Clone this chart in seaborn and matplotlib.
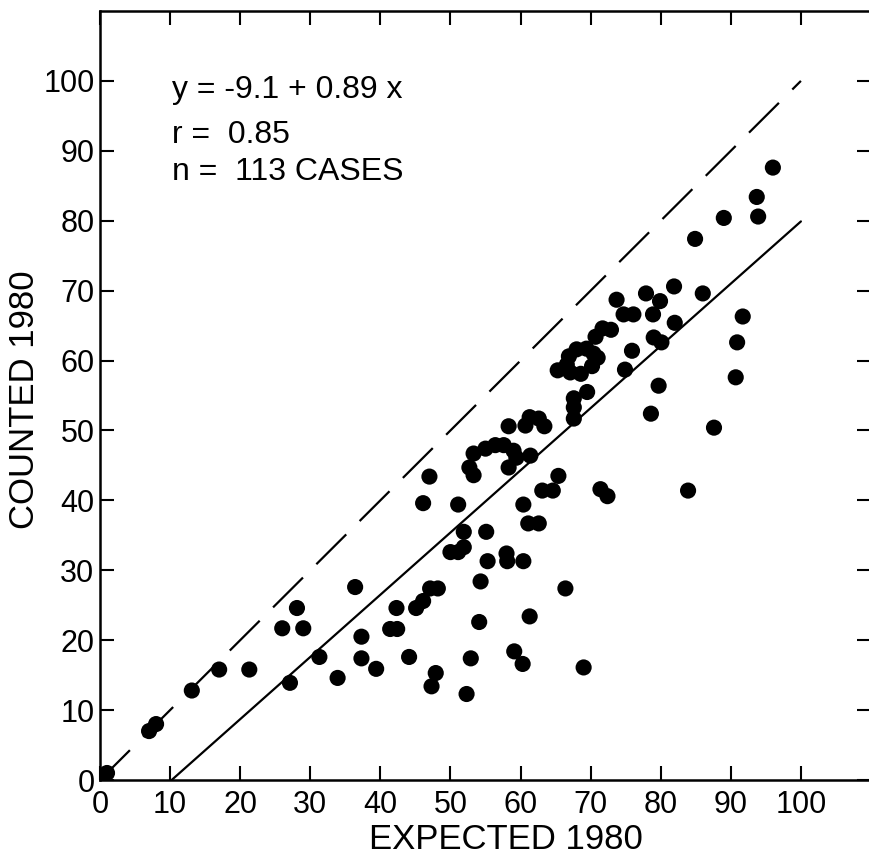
"""Counted vs expected 1980 scatter, with identity and fitted line."""

import matplotlib

matplotlib.use("Agg")
import matplotlib.pyplot as plt
import numpy as np
import pandas as pd
import seaborn as sns

# values (expected, counted)
expected = [
    1, 7, 8, 13.1, 17, 21.3, 26, 28.1, 29, 27.1,
    31.3, 33.9, 36.4, 37.3, 37.3, 39.4, 41.4, 42.4, 42.3, 44.1,
    45.1, 46.1, 47.1, 48.2, 47.9, 47.3, 47.0, 46.1, 50.0, 51.1,
    51.9, 51.9, 51.1, 52.3, 52.9, 54.1, 54.3, 55.3, 55.1, 52.7,
    53.3, 53.3, 55.0, 56.4, 57.6, 59.0, 59.4, 58.3, 58.3, 58.0,
    58.1, 59.1, 60.3, 60.4, 60.4, 61.3, 61.1, 62.6, 61.4, 60.7,
    61.3, 62.6, 63.4, 63.1, 64.6, 65.4, 66.4, 69.0, 71.4, 72.4,
    67.6, 67.6, 67.6, 69.5, 65.3, 66.9, 68.0, 69.4, 70.4, 70.2,
    68.6, 67.1, 66.6, 71.0, 70.7, 71.7, 72.9, 73.7, 74.7, 76.1,
    74.9, 75.9, 77.9, 78.9, 79.9, 79.0, 80.1, 79.7, 78.6, 81.9,
    82.0, 86.0, 84.9, 87.6, 83.9, 89.0, 90.7, 90.9, 91.7, 93.9,
    93.7, 96.0,
]
counted = [
    1, 7, 8, 12.8, 15.8, 15.8, 21.7, 24.6, 21.7, 13.9,
    17.6, 14.6, 27.6, 20.5, 17.4, 15.9, 21.6, 21.6, 24.6, 17.6,
    24.6, 25.6, 27.4, 27.4, 15.3, 13.4, 43.4, 39.6, 32.6, 32.6,
    33.3, 35.5, 39.4, 12.3, 17.4, 22.6, 28.4, 31.3, 35.5, 44.7,
    43.6, 46.7, 47.4, 47.9, 47.9, 47.1, 46.1, 44.7, 50.6, 32.4,
    31.3, 18.4, 16.6, 31.3, 39.4, 23.4, 36.7, 36.7, 46.4, 50.7,
    51.9, 51.7, 50.6, 41.4, 41.4, 43.5, 27.4, 16.1, 41.6, 40.6,
    51.7, 53.3, 54.6, 55.5, 58.6, 60.6, 61.6, 61.7, 61.0, 59.2,
    58.1, 58.3, 59.4, 60.4, 63.4, 64.6, 64.4, 68.7, 66.6, 66.6,
    58.7, 61.4, 69.6, 66.6, 68.5, 63.3, 62.6, 56.4, 52.4, 70.6,
    65.4, 69.6, 77.4, 50.4, 41.4, 80.4, 57.6, 62.6, 66.3, 80.6,
    83.4, 87.6,
]

# fitted line reported in the figure
intercept = -9.1
slope = 0.89
r_value = 0.85
n_cases = 113

ticks = list(range(0, 101, 10))

df = pd.DataFrame({"expected": expected, "counted": counted})

sns.set_style("ticks")
plt.rcParams["font.family"] = ["Liberation Sans", "DejaVu Sans"]
plt.rcParams.update({
    "text.color": "black",
    "axes.labelcolor": "black",
    "xtick.color": "black",
    "ytick.color": "black",
})

fig = plt.figure(figsize=(8.7, 8.6), dpi=100)
ax = fig.add_axes([100 / 870, 80 / 860, 771 / 870, 769 / 860])

# identity line y = x
ident = np.array([0, 100])
ax.plot(ident, ident, color="black", lw=1.6, ls=(0, (19, 8.5)), zorder=2)

# regression line, starting where it crosses zero
x_fit = np.array([-intercept / slope, 100])
ax.plot(x_fit, intercept + slope * x_fit, color="black", lw=1.6, zorder=2)

sns.scatterplot(data=df, x="expected", y="counted", color="black", s=135,
                edgecolor="none", linewidth=0, ax=ax, zorder=3)

ax.set_xlim(0, 110)
ax.set_ylim(0, 110)
ax.set_xticks(ticks)
ax.set_yticks(ticks)
ax.tick_params(axis="both", which="both", direction="in", length=10, width=1.5,
               labelsize=22, top=True, right=True, color="black")
ax.tick_params(axis="x", pad=7)
ax.tick_params(axis="y", pad=4)
for side in ["left", "bottom", "top"]:
    ax.spines[side].set_linewidth(1.8)
    ax.spines[side].set_color("black")
# the right border falls just outside the scanned page
ax.spines["right"].set_visible(False)

ax.set_xlabel("EXPECTED 1980", fontsize=25)
ax.set_ylabel("COUNTED 1980", fontsize=25)
ax.xaxis.set_label_coords(0.527, -0.056)
ax.yaxis.set_label_coords(-0.076, 0.494)

ax.text(0.0935, 0.887, f"y = {intercept} + {slope} x", transform=ax.transAxes,
        fontsize=23, va="baseline")
ax.text(0.0935, 0.828, f"r =  {r_value}", transform=ax.transAxes,
        fontsize=23, va="baseline")
ax.text(0.0935, 0.780, f"n =  {n_cases} CASES", transform=ax.transAxes,
        fontsize=23, va="baseline")

fig.savefig("out.png", dpi=100)
plt.close(fig)
